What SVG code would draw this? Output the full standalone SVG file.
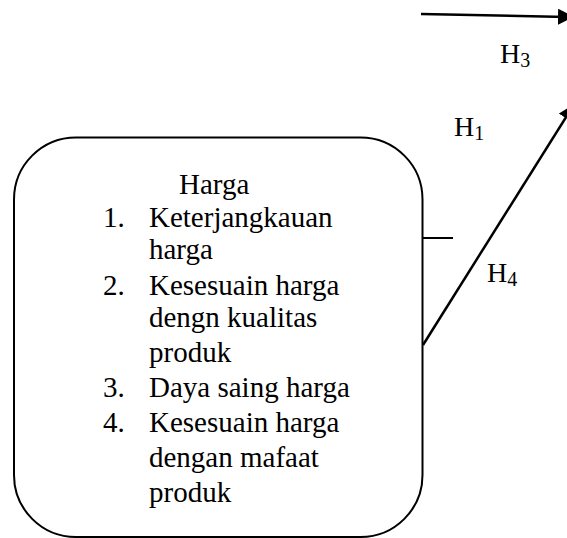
<svg xmlns="http://www.w3.org/2000/svg" width="567" height="538" viewBox="0 0 567 538">
<style>
.t{font-family:"Liberation Serif","Times New Roman",serif;font-size:29px;fill:#000}
.h{font-family:"Liberation Serif","Times New Roman",serif;font-size:28px;fill:#000}
.s{font-size:20px}
.ln{stroke:#000;stroke-width:2.5;fill:none}
</style>
<defs>
<marker id="ah" markerWidth="10" markerHeight="10" refX="8" refY="5" orient="auto" markerUnits="userSpaceOnUse" viewBox="0 0 10 10">
<path d="M0,0 L10,5 L0,10 z" fill="#000"/>
</marker>
<marker id="ah2" markerWidth="16" markerHeight="16" refX="14" refY="8" orient="auto" markerUnits="userSpaceOnUse" viewBox="0 0 16 16">
<path d="M0,0 L16,8 L0,16 z" fill="#000"/>
</marker>
</defs>
<g id="harga">
<rect x="14" y="137.5" width="408.5" height="399.5" rx="62" ry="62" fill="#fff" stroke="#000" stroke-width="2"/>
<text class="t" x="179" y="194">Harga</text>
<text class="t" x="103" y="227">1.</text>
<text class="t" x="149" y="227">Keterjangkauan</text>
<text class="t" x="149" y="259">harga</text>
<text class="t" x="103" y="295">2.</text>
<text class="t" x="149" y="295">Kesesuain harga</text>
<text class="t" x="149" y="327">dengn kualitas</text>
<text class="t" x="149" y="362">produk</text>
<text class="t" x="103" y="397">3.</text>
<text class="t" x="149" y="397">Daya saing harga</text>
<text class="t" x="103" y="432">4.</text>
<text class="t" x="149" y="432">Kesesuain harga</text>
<text class="t" x="149" y="467">dengan mafaat</text>
<text class="t" x="149" y="502">produk</text>
</g>
<g id="connectors">
<line class="ln" x1="421" y1="14" x2="572" y2="17" marker-end="url(#ah2)"/>
<line class="ln" x1="423" y1="345" x2="573" y2="106" marker-end="url(#ah2)"/>
<line x1="423" y1="238" x2="453" y2="238" stroke="#000" stroke-width="2"/>
</g>
<g id="labels">
<text class="h" x="500" y="63">H<tspan class="s" dy="4">3</tspan></text>
<text class="h" x="454" y="136">H<tspan class="s" dy="4">1</tspan></text>
<text class="h" x="487" y="282">H<tspan class="s" dy="4">4</tspan></text>
</g>
</svg>
